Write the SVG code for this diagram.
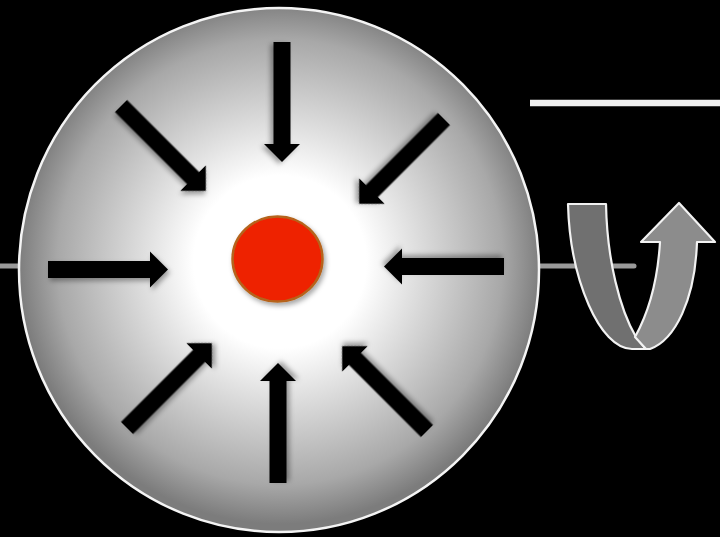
<svg xmlns="http://www.w3.org/2000/svg" xmlns:xlink="http://www.w3.org/1999/xlink" width="720" height="537" viewBox="0 0 720 537">
<style>
.arrow{fill:#000;filter:url(#shadow)}
.band{stroke:#f2f2f2;stroke-width:2.2;stroke-linejoin:round}
</style>
<defs>
<radialGradient id="sphereGrad" gradientUnits="userSpaceOnUse" cx="280" cy="262" r="262">
<stop offset="0" stop-color="#ffffff"/>
<stop offset="0.33" stop-color="#ffffff"/>
<stop offset="0.5" stop-color="#e2e2e2"/>
<stop offset="0.85" stop-color="#a8a8a8"/>
<stop offset="1" stop-color="#7c7c7c"/>
</radialGradient>
<filter id="shadow" x="-30%" y="-30%" width="160%" height="160%">
<feDropShadow dx="2" dy="3" stdDeviation="2.5" flood-color="#000" flood-opacity="0.35"/>
</filter>
<path id="arr" d="M0,-8.5 L102,-8.5 L102,-18 L120,0 L102,18 L102,8.5 L0,8.5 Z"/>
</defs>
<rect width="720" height="537" fill="#000"/>
<g id="axis">
<line x1="0" y1="266" x2="634" y2="266" stroke="#9a9a9a" stroke-width="5" stroke-linecap="round"/>
</g>
<g id="topline">
<line x1="530" y1="103" x2="720" y2="103" stroke="#f0f0f0" stroke-width="6.5"/>
</g>
<g id="sphere">
<ellipse cx="279" cy="270" rx="260" ry="262" fill="url(#sphereGrad)" stroke="#f4f4f4" stroke-width="2.5"/>
</g>
<g id="core">
<ellipse cx="277.5" cy="259" rx="45" ry="42.5" fill="#ee2400" stroke="#b5641c" stroke-width="2.5" filter="url(#shadow)"/>
</g>
<g id="connectors">
<use xlink:href="#arr" class="arrow" transform="translate(282,42) rotate(90)"/>
<use xlink:href="#arr" class="arrow" transform="translate(278,483) rotate(-90)"/>
<use xlink:href="#arr" class="arrow" transform="translate(48,269.5)"/>
<use xlink:href="#arr" class="arrow" transform="translate(504,266.5) rotate(180)"/>
<use xlink:href="#arr" class="arrow" transform="translate(121,106) rotate(45)"/>
<use xlink:href="#arr" class="arrow" transform="translate(444,119) rotate(135)"/>
<use xlink:href="#arr" class="arrow" transform="translate(127,428) rotate(-45)"/>
<use xlink:href="#arr" class="arrow" transform="translate(427,431) rotate(-135)"/>
</g>
<g id="uturn">
<path class="band" fill="#707070" d="M568,204 L606,204 C607,260 620,310 636,337 L646,349 L632,349 C600,349 570,280 568,204 Z"/>
<path class="band" fill="#8c8c8c" d="M635,337 C650,310 658,275 660,242 L641,242 L679,203 L715,242 L697,242 C695,300 675,340 650,349 L646,349 Z"/>
</g>
</svg>
